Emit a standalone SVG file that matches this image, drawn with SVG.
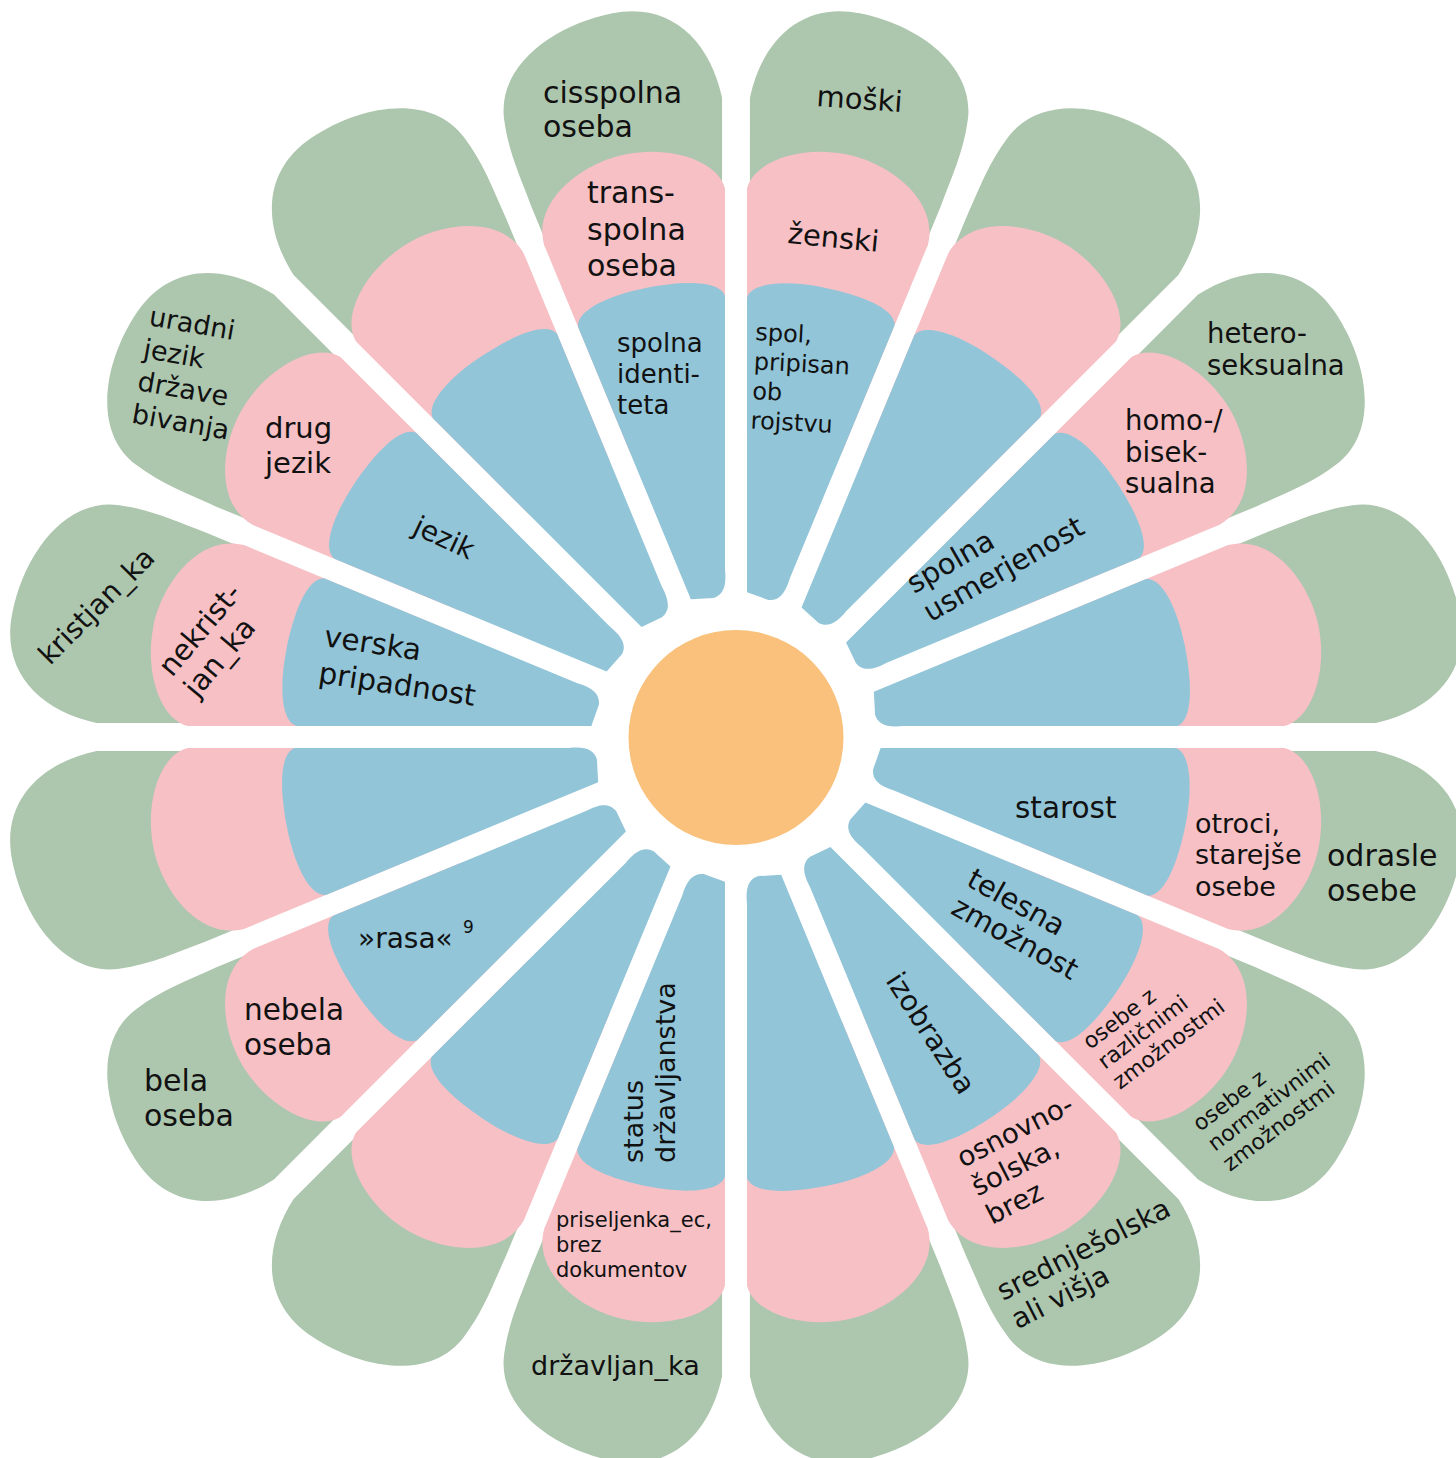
<svg xmlns="http://www.w3.org/2000/svg" width="1456" height="1458" viewBox="0 0 1456 1458">
<style>
.g{fill:#adc6ae}.p{fill:#f6c0c5}.b{fill:#92c5d8}
text{font-family:"DejaVu Sans","Liberation Sans",sans-serif;fill:#111}
</style>
<defs>
<path id="pg" d="M-65.4,-400 L-111.1,-630 C-110,-690 -78,-734 -20,-734 C40,-734 104,-705 107,-650 C109,-618 102,-590 97.2,-560 L65.4,-400 Z"/>
<path id="pp" d="M-48.5,-300 L-96.2,-540 C-95,-568 -52,-593 -5,-593 C40,-593 95,-565 92.2,-520 L48.5,-300 Z"/>
<path id="pb" d="M-17.4,-144 L-74.9,-433 C-73.5,-449 -40,-458 -2,-458 C35,-458 72,-452 75.3,-435 L21.8,-166 C20.2,-148 14,-141.5 5,-140.8 Z"/>
</defs>
<rect width="1456" height="1458" fill="#ffffff"/>

<g id="petal-spol-ob-rojstvu">
<g transform="translate(736,737) rotate(11.25)"><use href="#pg" class="g"/><use href="#pp" class="p"/><use href="#pb" class="b"/></g>
<text font-size="24" transform="translate(755,340) rotate(3)"><tspan x="0" y="0">spol,</tspan><tspan x="0" y="29.5">pripisan</tspan><tspan x="0" y="59">ob</tspan><tspan x="0" y="88.5">rojstvu</tspan></text>
<text font-size="29" transform="translate(787,243) rotate(5.5)">ženski</text>
<text font-size="29" transform="translate(816,106) rotate(4)">moški</text>
</g>

<g id="petal-1">
<g transform="translate(736,737) rotate(33.75)"><use href="#pg" class="g" transform="scale(-1,1)"/><use href="#pp" class="p" transform="scale(-1,1)"/><use href="#pb" class="b"/></g>
</g>

<g id="petal-spolna-usmerjenost">
<g transform="translate(736,737) rotate(56.25)"><use href="#pg" class="g"/><use href="#pp" class="p"/><use href="#pb" class="b"/></g>
<text font-size="29" transform="translate(914,594) rotate(-30)"><tspan x="0" y="0">spolna</tspan><tspan x="0" y="33">usmerjenost</tspan></text>
<text font-size="27.5"><tspan x="1207" y="343">hetero-</tspan><tspan x="1207" y="375">seksualna</tspan></text>
<text font-size="27.5"><tspan x="1125" y="430">homo-/</tspan><tspan x="1125" y="462">bisek-</tspan><tspan x="1125" y="493">sualna</tspan></text>
</g>

<g id="petal-3">
<g transform="translate(736,737) rotate(78.75)"><use href="#pg" class="g" transform="scale(-1,1)"/><use href="#pp" class="p" transform="scale(-1,1)"/><use href="#pb" class="b"/></g>
</g>

<g id="petal-starost">
<g transform="translate(736,737) rotate(101.25)"><use href="#pg" class="g"/><use href="#pp" class="p"/><use href="#pb" class="b"/></g>
<text font-size="29.5" x="1015" y="818">starost</text>
<text font-size="27"><tspan x="1195" y="833">otroci,</tspan><tspan x="1195" y="864">starejše</tspan><tspan x="1195" y="896">osebe</tspan></text>
<text font-size="30"><tspan x="1327" y="866">odrasle</tspan><tspan x="1327" y="901">osebe</tspan></text>
</g>

<g id="petal-telesna-zmoznost">
<g transform="translate(736,737) rotate(123.75)"><use href="#pg" class="g" transform="scale(-1,1)"/><use href="#pp" class="p" transform="scale(-1,1)"/><use href="#pb" class="b"/></g>
<text font-size="29" transform="translate(965,885) rotate(29)"><tspan x="0" y="0">telesna</tspan><tspan x="0" y="32">zmožnost</tspan></text>
<text font-size="22" transform="translate(1090,1050) rotate(-37)"><tspan x="0" y="0">osebe z</tspan><tspan x="0" y="25">različnimi</tspan><tspan x="0" y="50">zmožnostmi</tspan></text>
<text font-size="22" transform="translate(1200,1132) rotate(-37)"><tspan x="0" y="0">osebe z</tspan><tspan x="0" y="25">normativnimi</tspan><tspan x="0" y="50">zmožnostmi</tspan></text>
</g>

<g id="petal-izobrazba">
<g transform="translate(736,737) rotate(146.25)"><use href="#pg" class="g"/><use href="#pp" class="p"/><use href="#pb" class="b"/></g>
<text font-size="28.5" text-anchor="middle" transform="translate(931,1033) rotate(57)" x="0" y="10">izobrazba</text>
<text font-size="27.5" transform="translate(963,1168) rotate(-27)"><tspan x="0" y="0">osnovno-</tspan><tspan x="0" y="32">šolska,</tspan><tspan x="0" y="64">brez</tspan></text>
<text font-size="28" transform="translate(1003,1301) rotate(-27)"><tspan x="0" y="0">srednješolska</tspan><tspan x="0" y="32">ali višja</tspan></text>
</g>

<g id="petal-7">
<g transform="translate(736,737) rotate(168.75)"><use href="#pg" class="g" transform="scale(-1,1)"/><use href="#pp" class="p" transform="scale(-1,1)"/><use href="#pb" class="b"/></g>
</g>

<g id="petal-status-drzavljanstva">
<g transform="translate(736,737) rotate(191.25)"><use href="#pg" class="g"/><use href="#pp" class="p"/><use href="#pb" class="b"/></g>
<text font-size="27" transform="translate(643,1163) rotate(-90)"><tspan x="0" y="0">status</tspan><tspan x="0" y="32">državljanstva</tspan></text>
<text font-size="21"><tspan x="556" y="1227">priseljenka_ec,</tspan><tspan x="556" y="1252">brez</tspan><tspan x="556" y="1277">dokumentov</tspan></text>
<text font-size="27" x="531" y="1375">državljan_ka</text>
</g>

<g id="petal-9">
<g transform="translate(736,737) rotate(213.75)"><use href="#pg" class="g" transform="scale(-1,1)"/><use href="#pp" class="p" transform="scale(-1,1)"/><use href="#pb" class="b"/></g>
</g>

<g id="petal-rasa">
<g transform="translate(736,737) rotate(236.25)"><use href="#pg" class="g"/><use href="#pp" class="p"/><use href="#pb" class="b"/></g>
<text font-size="28" x="358" y="948">»rasa«</text>
<text font-size="17" x="463" y="933">9</text>
<text font-size="29.5"><tspan x="244" y="1020">nebela</tspan><tspan x="244" y="1055">oseba</tspan></text>
<text font-size="30"><tspan x="144" y="1091">bela</tspan><tspan x="144" y="1126">oseba</tspan></text>
</g>

<g id="petal-11">
<g transform="translate(736,737) rotate(258.75)"><use href="#pg" class="g" transform="scale(-1,1)"/><use href="#pp" class="p" transform="scale(-1,1)"/><use href="#pb" class="b"/></g>
</g>

<g id="petal-verska-pripadnost">
<g transform="translate(736,737) rotate(281.25)"><use href="#pg" class="g"/><use href="#pp" class="p"/><use href="#pb" class="b"/></g>
<text font-size="29.5" transform="translate(323,646) rotate(8.5)"><tspan x="0" y="0">verska</tspan><tspan x="0" y="37">pripadnost</tspan></text>
<text font-size="29" transform="translate(172,678) rotate(-50)"><tspan x="0" y="0">nekrist-</tspan><tspan x="0" y="33">jan_ka</tspan></text>
<text font-size="28" text-anchor="middle" transform="translate(97.5,607) rotate(-45)" x="0" y="8">kristjan_ka</text>
</g>

<g id="petal-jezik">
<g transform="translate(736,737) rotate(303.75)"><use href="#pg" class="g" transform="scale(-1,1)"/><use href="#pp" class="p" transform="scale(-1,1)"/><use href="#pb" class="b"/></g>
<text font-size="28" text-anchor="middle" transform="translate(443,540) rotate(25)" x="0" y="7">jezik</text>
<text font-size="29"><tspan x="265" y="438">drug</tspan><tspan x="265" y="473">jezik</tspan></text>
<text font-size="27" transform="translate(148,325) rotate(10)"><tspan x="0" y="0">uradni</tspan><tspan x="0" y="33">jezik</tspan><tspan x="0" y="66">države</tspan><tspan x="0" y="99">bivanja</tspan></text>
</g>

<g id="petal-14">
<g transform="translate(736,737) rotate(326.25)"><use href="#pg" class="g"/><use href="#pp" class="p"/><use href="#pb" class="b"/></g>
</g>

<g id="petal-spolna-identiteta">
<g transform="translate(736,737) rotate(348.75)"><use href="#pg" class="g" transform="scale(-1,1)"/><use href="#pp" class="p" transform="scale(-1,1)"/><use href="#pb" class="b"/></g>
<text font-size="26"><tspan x="617" y="352">spolna</tspan><tspan x="617" y="383">identi-</tspan><tspan x="617" y="414">teta</tspan></text>
<text font-size="30"><tspan x="587" y="203">trans-</tspan><tspan x="587" y="240">spolna</tspan><tspan x="587" y="276">oseba</tspan></text>
<text font-size="30"><tspan x="543" y="103">cisspolna</tspan><tspan x="543" y="137">oseba</tspan></text>
</g>

<circle id="center" cx="736" cy="737.5" r="107.5" fill="#f9c17c"/>
</svg>
